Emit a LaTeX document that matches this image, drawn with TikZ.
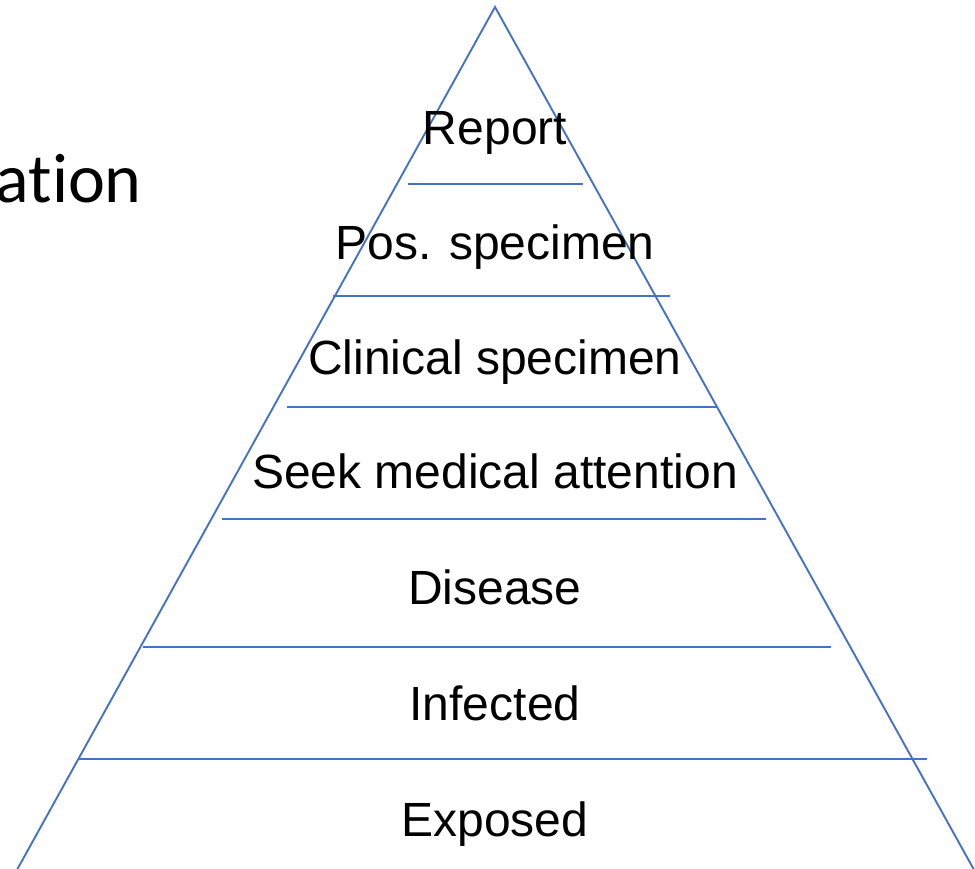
\documentclass[tikz,border=0pt]{standalone}
\usepackage{fontspec}
\setmainfont{Liberation Sans}
\newfontfamily\calfont[Ligatures=NoCommon]{Carlito}
\definecolor{lineblue}{RGB}{68,114,196}
\begin{document}
\begin{tikzpicture}[x=1pt,y=-1pt,
  edge/.style={draw=lineblue,line width=1.9pt},
  lbl/.style={font=\fontsize{48}{50}\selectfont,inner sep=0pt,anchor=base}]
\useasboundingbox (0,0) rectangle (975,869);
\clip (0,0) rectangle (975,869);
\coordinate (apex) at (495,7);
\coordinate (bl) at (13,877);
\coordinate (br) at (978,877);
\draw[edge] (bl) -- (apex) -- (br);
\foreach \y/\xa/\xb/\n in {184/408/583/a,296/333/670/b,407/287/717/c,519/222/766/d,647/143/831/e,759/79/927/f}{
  \coordinate (l\n) at (\xa,\y);
  \coordinate (r\n) at (\xb,\y);
  \draw[edge] (l\n) -- (r\n);
}
\node[lbl] (t1) at (495,145) {Report};
\node[lbl] (t2) at (495,260) {Pos. specimen};
\node[lbl] (t3) at (495,374) {Clinical specimen};
\node[lbl] (t4) at (495,488) {Seek medical attention};
\node[lbl] (t5) at (495,604) {Disease};
\node[lbl] (t6) at (495,720) {Infected};
\node[lbl] (t7) at (495,836) {Exposed};
\node[font=\calfont\fontsize{70}{72}\selectfont,inner sep=0pt,anchor=base east] (t0) at (142,203) {at{}ion};
\end{tikzpicture}
\end{document}
